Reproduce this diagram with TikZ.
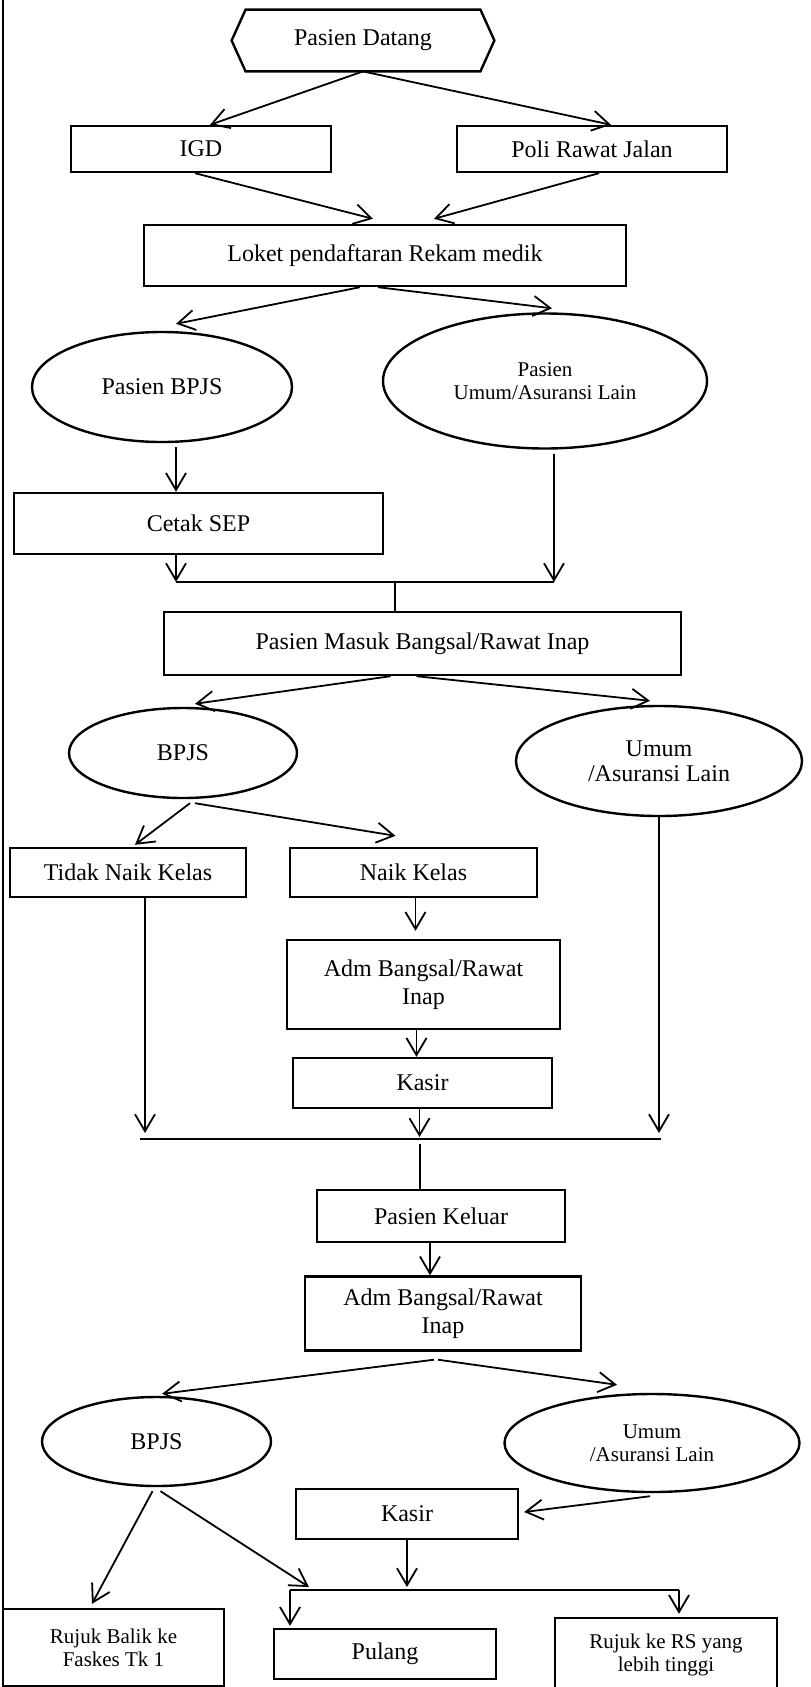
\documentclass[tikz,border=0pt]{standalone}
\usepackage{fontspec}
\setmainfont{Liberation Serif}
\usetikzlibrary{arrows.meta, shapes.geometric}

\begin{document}
\begin{tikzpicture}[x=0.5pt, y=-0.5pt, >={Straight Barb[length=8.5pt, width=10pt]},
    box/.style={draw, line width=1.2pt, rectangle, inner sep=0pt, align=center, font=\fontsize{12}{14}\selectfont},
    oval/.style={draw, line width=1.2pt, ellipse, inner sep=0pt, align=center, font=\fontsize{12}{12.5}\selectfont},
    small/.style={font=\fontsize{10.5}{11.5}\selectfont},
    link/.style={line width=0.9pt}]
    \useasboundingbox (0, 0) rectangle (810, 1687);
    \draw[line width=1pt] (3, 0) -- (3, 1687);

    % Arrival and registration
    \node (datang) at (363, 40.5) [minimum width=131pt, minimum height=30.5pt, inner sep=0pt, font=\fontsize{12}{14}\selectfont] {Pasien Datang};
    \draw[line width=1.2pt] (datang.west) -- ([xshift=7pt]datang.north west) -- ([xshift=-7pt]datang.north east) -- (datang.east) -- ([xshift=-7pt]datang.south east) -- ([xshift=7pt]datang.south west) -- cycle;
    \node (igd) at (201, 149) [box, minimum width=130pt, minimum height=23pt] {IGD};
    \node (poli) at (592, 149) [box, minimum width=135pt, minimum height=23pt] {Poli Rawat Jalan};
    \node (loket) at (385, 255.5) [box, minimum width=241pt, minimum height=30.5pt] {Loket pendaftaran Rekam medik};
    \draw[->, link] (datang.south) -- ([xshift=4.5pt]igd.north);
    \draw[->, link] (datang.south) -- ([xshift=9.5pt]poli.north);
    \draw[->, link] ([xshift=-3pt]igd.south) -- ([xshift=-6pt, yshift=2.5pt]loket.north);
    \draw[->, link] ([xshift=3.5pt]poli.south) -- ([xshift=24.5pt, yshift=2.5pt]loket.north);

    % Patient type
    \node (pbpjs) at (162, 387) [oval, minimum width=130pt, minimum height=55pt] {Pasien BPJS};
    \node (pumum) at (545, 381) [oval, small, minimum width=162pt, minimum height=67.5pt] {Pasien \\ Umum/Asuransi Lain};
    \node (sep) at (198.5, 523.5) [box, minimum width=184.5pt, minimum height=30.5pt] {Cetak SEP};
    \draw[->, link] ([xshift=-12.5pt]loket.south) -- ([xshift=7pt, yshift=3.5pt]pbpjs.north);
    \draw[->, link] ([xshift=-3.5pt]loket.south) -- ([xshift=3.5pt, yshift=2pt]pumum.north);
    \draw[->, link] ([xshift=7pt, yshift=-2pt]pbpjs.south) -- ([xshift=7pt]pbpjs.south |- sep.north);
    \coordinate (j1l) at (176, 582);
    \coordinate (j1r) at (554, 582);
    \coordinate (j1m) at (395, 582);
    \draw[->, link] (j1l |- sep.south) -- (j1l);
    \draw[->, link] ([yshift=-2pt]j1r |- pumum.south) -- (j1r);
    \draw[link] (j1l) -- (j1r);

    % Inpatient ward
    \node (masuk) at (422.5, 643.5) [box, minimum width=258.5pt, minimum height=31.5pt] {Pasien Masuk Bangsal/Rawat Inap};
    \draw[link] (j1m) -- (j1m |- masuk.north);
    \node (bpjs) at (183, 753) [oval, minimum width=114pt, minimum height=45pt] {BPJS};
    \node (umum) at (659, 761) [oval, minimum width=143pt, minimum height=55pt] {Umum \\ /Asuransi Lain};
    \draw[->, link] ([xshift=-16pt]masuk.south) -- ([xshift=6pt, yshift=1.5pt]bpjs.north);
    \draw[->, link] ([xshift=-3pt]masuk.south) -- ([xshift=-4.5pt, yshift=2pt]umum.north);
    \node (tidak) at (128, 872.5) [box, minimum width=118pt, minimum height=24.5pt] {Tidak Naik Kelas};
    \node (naik) at (413.5, 872.5) [box, minimum width=123.5pt, minimum height=24.5pt] {Naik Kelas};
    \draw[->, link] ([xshift=3.5pt, yshift=-2pt]bpjs.south) -- ([xshift=3.5pt, yshift=1pt]tidak.north);
    \draw[->, link] ([xshift=6pt, yshift=-2pt]bpjs.south) -- ([xshift=-9pt, yshift=5.5pt]naik.north);
    \node (adm) at (423.5, 984.5) [box, minimum width=136.5pt, minimum height=44.5pt] {Adm Bangsal/Rawat \\ Inap};
    \node (kasir) at (422.5, 1083) [box, minimum width=129.5pt, minimum height=25pt] {Kasir};
    \draw[->, link] ([xshift=1pt]naik.south) -- ([xshift=1pt, yshift=4pt]naik.south |- adm.north);
    \draw[->, link] ([xshift=-3.5pt]adm.south) -- ([xshift=-3.5pt]adm.south |- kasir.north);
    \coordinate (j2l) at (140, 1139);
    \coordinate (j2r) at (661, 1139);
    \coordinate (j2m) at (420, 1139);
    \draw[->, link] ([xshift=2.5pt]j2l |- tidak.south) -- ([xshift=2.5pt, yshift=3pt]j2l);
    \draw[->, link] ([xshift=-1.5pt]kasir.south) -- ([xshift=-1.5pt, yshift=1pt]kasir.south |- j2l);
    \draw[->, link] (umum.south) -- ([yshift=3pt]umum.south |- j2l);
    \draw[link] (j2l) -- (j2r);

    % Discharge
    \node (keluar) at (441, 1216) [box, minimum width=124pt, minimum height=26pt] {Pasien Keluar};
    \draw[link] ([yshift=-2.5pt]j2m) -- (j2m |- keluar.north);
    \node (admk) at (443, 1313.5) [box, minimum width=138pt, minimum height=37pt] {Adm Bangsal/Rawat \\ Inap};
    \draw[->, link] ([xshift=-5.5pt]keluar.south) -- ([xshift=-5.5pt]keluar.south |- admk.north);
    \node (bpjsk) at (156.5, 1441.5) [oval, minimum width=114.5pt, minimum height=44.5pt] {BPJS};
    \node (umumk) at (652, 1443) [oval, small, minimum width=147.5pt, minimum height=49pt] {Umum \\ /Asuransi Lain};
    \draw[->, link] ([xshift=-4.5pt, yshift=-4pt]admk.south) -- ([xshift=2.75pt, yshift=1pt]bpjsk.north);
    \draw[->, link] ([xshift=-2.5pt, yshift=-4pt]admk.south) -- ([xshift=-17.5pt, yshift=4pt]umumk.north);
    \node (kasirk) at (407, 1514) [box, minimum width=111pt, minimum height=25pt] {Kasir};
    \draw[->, link] ([xshift=-1pt, yshift=-1.5pt]umumk.south) -- ([xshift=2.5pt, yshift=1pt]kasirk.east);

    % Final outcome
    \coordinate (j3l) at (290, 1590);
    \coordinate (j3r) at (679, 1590);
    \coordinate (j3b) at (309, 1587);
    \node (balik) at (113.5, 1647.5) [box, small, minimum width=110.5pt, minimum height=38.5pt] {Rujuk Balik ke \\ Faskes Tk 1};
    \node (pulang) at (385, 1654) [box, minimum width=111pt, minimum height=25pt] {Pulang};
    \node (rujuk) at (666, 1655) [box, small, minimum width=111pt, minimum height=37pt] {Rujuk ke RS yang \\ lebih tinggi};
    \draw[->, link] ([xshift=-2pt, yshift=-2pt]bpjsk.south) -- ([xshift=-10.75pt, yshift=2pt]balik.north);
    \draw[->, link] ([xshift=2pt, yshift=-2pt]bpjsk.south) -- (j3b);
    \draw[->, link] (kasirk.south) -- ([yshift=1.5pt]kasirk.south |- j3l);
    \draw[link] (j3l) -- (j3r);
    \draw[->, link] (j3l) -- ([yshift=1pt]j3l |- pulang.north);
    \draw[->, link] (j3r) -- ([yshift=1.5pt]j3r |- rujuk.north);
\end{tikzpicture}
\end{document}
